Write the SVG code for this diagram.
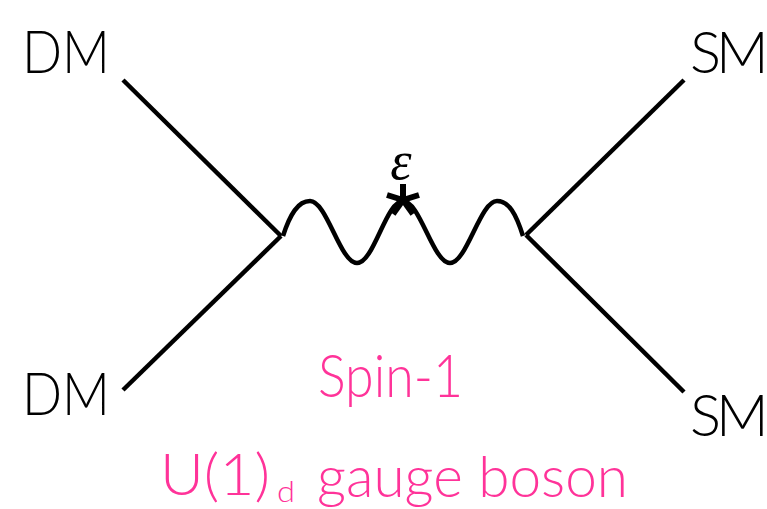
<svg xmlns="http://www.w3.org/2000/svg" width="767" height="509" viewBox="0 0 767 509">
<style>
.lbl{font-family:Lato,"Open Sans","Liberation Sans",sans-serif;font-weight:300;font-size:60px;fill:#000}
.sm{font-family:Lato,"Open Sans","Liberation Sans",sans-serif;font-weight:300;font-size:58px;letter-spacing:-5px;fill:#000}
.pk{font-family:Lato,"Open Sans","Liberation Sans",sans-serif;font-weight:300;fill:#FF3399}
.ln{stroke:#000;stroke-width:4.5;fill:none;stroke-linecap:butt;stroke-linejoin:miter}
</style>
<rect width="767" height="509" fill="#fff"/>
<g id="connectors">
<line class="ln" x1="123" y1="80" x2="281" y2="236"/>
<line class="ln" x1="123" y1="390" x2="281" y2="236"/>
<line class="ln" x1="684" y1="80" x2="526" y2="235"/>
<line class="ln" x1="684" y1="392" x2="526" y2="235"/>
<path class="ln" d="M283,236 C290,214 298,201 310,201 C327,201 340,263 357,263 C374,263 386,201 403,201 C420,201 433,263 450,263 C467,263 480,201 497,201 C509,201 516,214 523,236"/>
</g>
<g id="mixing">
<g stroke="#000" stroke-width="6" stroke-linecap="butt">
<line x1="403" y1="200" x2="403" y2="184"/>
<line x1="403" y1="200" x2="387" y2="195"/>
<line x1="403" y1="200" x2="419" y2="195"/>
<line x1="403" y1="200" x2="393" y2="214"/>
<line x1="403" y1="200" x2="413" y2="214"/>
</g>
<text x="401" y="179" text-anchor="middle" font-family="'Liberation Serif',serif" font-style="italic" font-size="54">ε</text>
</g>
<g id="dm-in-1"><text class="lbl" x="22" y="73" textLength="88" lengthAdjust="spacingAndGlyphs">DM</text></g>
<g id="dm-in-2"><text class="lbl" x="22" y="415" textLength="88" lengthAdjust="spacingAndGlyphs">DM</text></g>
<g id="sm-out-1"><text class="sm" x="690" y="73">SM</text></g>
<g id="sm-out-2"><text class="sm" x="690" y="436">SM</text></g>
<g id="boson-label">
<text class="pk" x="318" y="397" font-size="60" textLength="145" lengthAdjust="spacingAndGlyphs">Spin-1</text>
<text class="pk" x="160" y="495" font-size="58" textLength="110" lengthAdjust="spacingAndGlyphs">U(1)</text>
<text class="pk" x="277" y="502" font-size="30" textLength="18" lengthAdjust="spacingAndGlyphs">d</text>
<text class="pk" x="317" y="497" font-size="58" textLength="311" lengthAdjust="spacingAndGlyphs">gauge boson</text>
</g>
</svg>
